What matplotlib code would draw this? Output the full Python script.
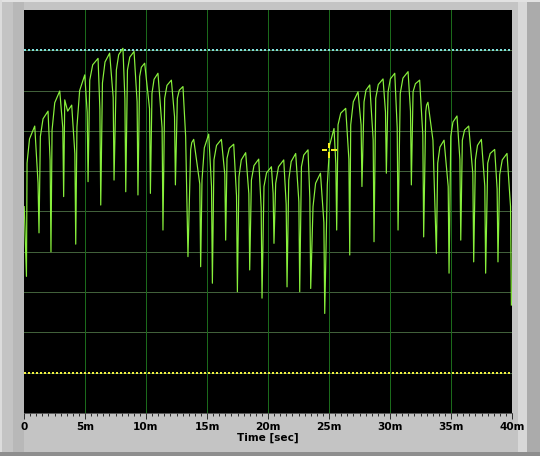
import matplotlib
matplotlib.use("Agg")
import matplotlib.pyplot as plt
from matplotlib.patches import Rectangle
from matplotlib.path import Path

# ---- data (time in ms, amplitude in arbitrary grid units) ----
start_point = (0.02, 5.12)
end_point = (39.95, 2.68)

# spike minimum of each beat
min_t = [0.20, 1.23, 2.21, 3.25, 4.24, 5.25, 6.29, 7.38, 8.34, 9.34, 10.36, 11.39,
         12.41, 13.44, 14.48, 15.44, 16.53, 17.49, 18.50, 19.51, 20.49, 21.56,
         22.60, 23.50, 24.65, 25.63, 26.70, 27.70, 28.69, 29.70, 30.66, 31.75,
         32.76, 33.80, 34.84, 35.80, 36.86, 37.84, 38.85]
min_v = [3.39, 4.47, 4.00, 5.37, 4.19, 5.74, 5.16, 5.78, 5.49, 5.41, 5.45, 4.54,
         5.66, 3.88, 3.63, 3.22, 4.29, 3.01, 3.55, 2.85, 4.21, 3.13, 3.01, 3.09,
         2.47, 4.54, 3.92, 5.62, 4.25, 5.95, 4.54, 5.66, 4.37, 3.96, 3.47, 4.29,
         3.75, 3.47, 3.75]
# level the trace jumps back to after the spike
back_t = [0.25, 1.34, 2.30, 3.34, 4.34, 5.39, 6.43, 7.57, 8.48, 9.48, 10.49, 11.53,
          12.57, 13.66, 14.59, 15.57, 16.64, 17.62, 18.64, 19.67, 20.63, 21.70,
          22.74, 23.69, 24.86, 25.74, 26.78, 27.87, 28.83, 29.84, 30.84, 31.89,
          32.93, 33.91, 34.98, 35.93, 37.00, 38.01, 38.99]
back_v = [6.20, 6.86, 7.02, 7.77, 7.10, 8.26, 8.19, 8.51, 8.51, 8.35, 7.93, 7.81,
          7.81, 6.53, 5.78, 6.28, 6.32, 5.86, 5.78, 5.62, 5.70, 5.78, 6.11, 5.12,
          5.66, 7.15, 7.15, 7.72, 7.81, 7.97, 7.93, 7.97, 7.48, 6.20, 6.86, 6.77,
          6.28, 6.20, 5.91]
# knee of the rising part
knee_t = [0.45, 1.56, 2.52, 3.58, 4.56, 5.63, 6.64, 7.76, 8.67, 9.62, 10.66, 11.72,
          12.73, 13.75, 14.78, 15.78, 16.83, 17.81, 18.85, 19.88, 20.86, 21.90,
          22.93, 23.90, 25.05, 25.96, 26.99, 28.03, 29.04, 30.03, 31.06, 32.08,
          33.00, 34.09, 35.16, 36.11, 37.17, 38.21, 39.20]
knee_v = [6.80, 7.30, 7.70, 7.49, 8.00, 8.64, 8.71, 8.89, 8.83, 8.58, 8.28, 8.13,
          8.01, 6.71, 6.58, 6.64, 6.57, 6.28, 6.14, 5.96, 6.11, 6.24, 6.40, 5.70,
          6.64, 7.44, 7.72, 8.01, 8.15, 8.29, 8.31, 8.17, 7.64, 6.60, 7.22, 7.02,
          6.64, 6.44, 6.28]
# top of each beat
peak_t = [0.88, 1.97, 2.93, 3.91, 4.98, 6.07, 7.02, 8.11, 9.02, 9.89, 10.98, 12.08,
          13.03, 13.91, 15.14, 16.18, 17.19, 18.17, 19.24, 20.28, 21.29, 22.27,
          23.28, 24.30, 25.41, 26.37, 27.38, 28.34, 29.43, 30.39, 31.48, 32.43,
          33.11, 34.43, 35.49, 36.45, 37.49, 38.58, 39.59]
peak_v = [7.12, 7.49, 7.99, 7.64, 8.39, 8.80, 8.93, 9.05, 8.97, 8.68, 8.43, 8.26,
          8.10, 6.79, 6.92, 6.79, 6.67, 6.46, 6.30, 6.11, 6.28, 6.44, 6.53, 5.95,
          7.06, 7.56, 7.97, 8.14, 8.29, 8.43, 8.47, 8.26, 7.71, 6.77, 7.37, 7.12,
          6.79, 6.54, 6.44]
# point where the decline turns into the sharp drop
drop_t = [1.15, 2.14, 3.18, 4.17, 5.18, 6.22, 7.31, 8.27, 9.27, 10.29, 11.32, 12.34,
          13.25, 14.41, 15.37, 16.46, 17.42, 18.43, 19.44, 20.42, 21.49, 22.53,
          23.43, 24.58, 25.56, 26.63, 27.63, 28.62, 29.63, 30.59, 31.68, 32.69,
          33.52, 34.77, 35.73, 36.79, 37.77, 38.78, 39.88]
drop_v = [5.71, 6.27, 7.07, 6.43, 7.46, 7.53, 7.83, 7.80, 7.72, 7.55, 7.07, 7.35,
          6.86, 5.68, 5.62, 5.92, 5.39, 5.44, 5.09, 5.45, 5.18, 5.24, 5.33, 4.73,
          6.18, 6.29, 7.15, 6.78, 7.47, 7.07, 7.49, 6.90, 6.77, 5.62, 6.29, 5.94,
          5.63, 5.56, 5.12]

upper_limit = 9.0
lower_limit = 1.0
cursor_t = 25.02
cursor_v = 6.53

x_ticks = [0, 5, 10, 15, 20, 25, 30, 35, 40]
x_tick_labels = ["0", "5m", "10m", "15m", "20m", "25m", "30m", "35m", "40m"]
x_label = "Time [sec]"

# assemble the trace from the read vertices
trace_t, trace_v = [start_point[0]], [start_point[1]]
for k in range(len(min_t)):
    trace_t += [min_t[k], back_t[k], knee_t[k], peak_t[k], drop_t[k]]
    trace_v += [min_v[k], back_v[k], knee_v[k], peak_v[k], drop_v[k]]
trace_t.append(end_point[0])
trace_v.append(end_point[1])

# ---- figure ----
W, H, DPI = 540, 456, 72
fig = plt.figure(figsize=(W / DPI, H / DPI), dpi=DPI, facecolor="#c4c4c4")

def px_rect(x0, y0, x1, y1, color):
    fig.patches.append(Rectangle((x0 / W, 1 - y1 / H), (x1 - x0) / W, (y1 - y0) / H,
                                 transform=fig.transFigure, facecolor=color,
                                 edgecolor="none", zorder=-10))

px_rect(0, 0, 540, 2, "#e2e2e2")
px_rect(0, 0, 2, 456, "#dcdcdc")
px_rect(13, 2, 24, 452, "#b8b8b8")
px_rect(518, 2, 527, 452, "#d8d8d8")
px_rect(527, 2, 540, 456, "#ababab")
px_rect(0, 452, 540, 456, "#8e8e8e")

ax = fig.add_axes([24 / W, (H - 413) / H, (512 - 24) / W, (413 - 10) / H])
ax.set_facecolor("black")
ax.set_xlim(0, 40)
ax.set_ylim(0, 10)

for v in range(1, 10):
    ax.axhline(v, color="#41603a", lw=1, zorder=1)
for t in x_ticks[1:-1]:
    ax.axvline(t, color="#1b6a1b", lw=1, zorder=1)

ax.axhline(upper_limit, color="#7ee0dc", lw=2, dashes=(1, 1), zorder=2)
ax.axhline(lower_limit, color="#f2f040", lw=2, dashes=(1, 1), zorder=2)

ax.plot(trace_t, trace_v, color="#88f03c", lw=1.2, zorder=3)

# cursor: four short yellow arms around a centre point
verts, codes = [], []
for (x0, y0, x1, y1) in [(-7, -1.2, -2, 1.2), (2, -1.2, 7, 1.2),
                         (-1.2, 2, 1.2, 7), (-1.2, -7, 1.2, -2)]:
    verts += [(x0, y0), (x1, y0), (x1, y1), (x0, y1), (x0, y0)]
    codes += [Path.MOVETO, Path.LINETO, Path.LINETO, Path.LINETO, Path.CLOSEPOLY]
cursor_marker = Path(verts, codes)
ax.plot([cursor_t], [cursor_v], marker=cursor_marker, markersize=15,
        color="#f4f020", markeredgewidth=0, linestyle="none", zorder=4)

for s in ax.spines.values():
    s.set_visible(False)
ax.spines["bottom"].set_visible(True)
ax.spines["bottom"].set_color("#404040")

ax.set_yticks([])
ax.set_xticks(x_ticks)
ax.set_xticklabels(x_tick_labels, fontsize=10.5, fontweight="bold",
                   family="DejaVu Sans")
ax.set_xticks([i * 0.5 for i in range(81)], minor=True)
ax.tick_params(axis="x", which="major", length=6, width=1, color="#303030", pad=3)
ax.tick_params(axis="x", which="minor", length=3, width=1, color="#303030")
ax.set_xlabel(x_label, fontsize=10.5, fontweight="bold", family="DejaVu Sans",
              labelpad=1)

fig.savefig("out.png", dpi=DPI, facecolor=fig.get_facecolor())
